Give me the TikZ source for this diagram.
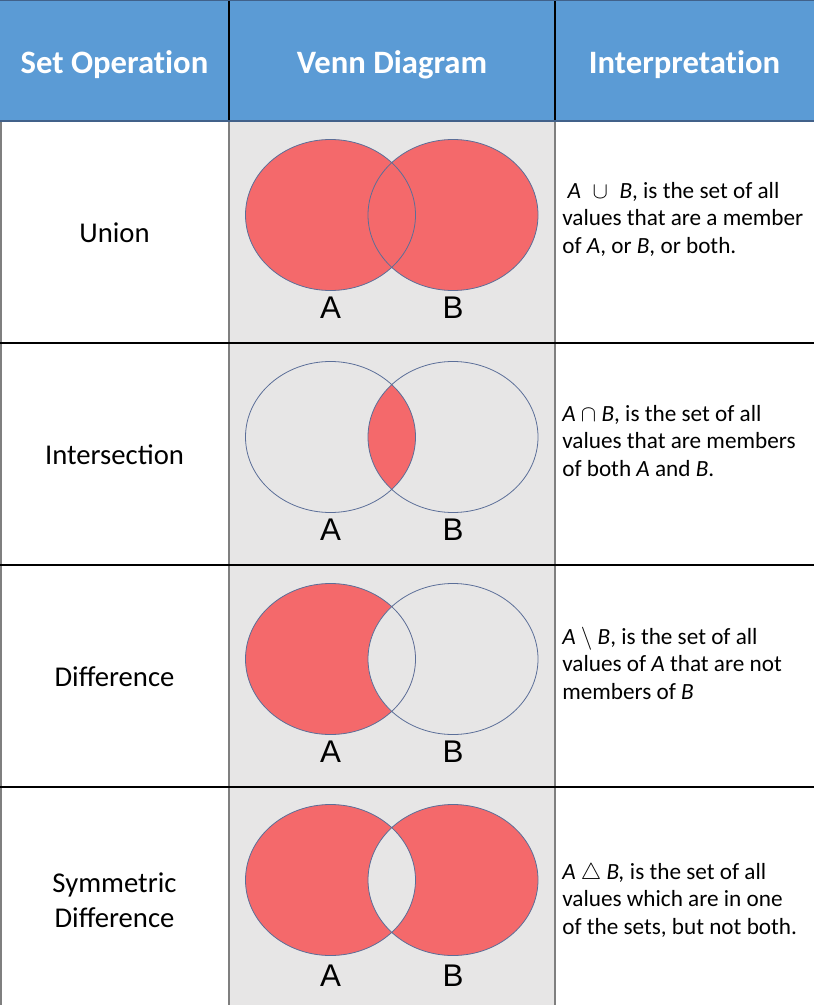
\documentclass[tikz,border=0pt]{standalone}
\usepackage{fontspec}
\setmainfont{Carlito}
\newfontfamily\labfont{Liberation Sans}
\newfontfamily\headfont[RawFeature={-liga;-calt;-clig;-dlig}]{Carlito}
\definecolor{headblue}{HTML}{5B9BD5}
\definecolor{headline}{HTML}{41618A}
\definecolor{cellgray}{HTML}{E7E6E6}
\definecolor{setred}{HTML}{F4696B}
\definecolor{vennline}{HTML}{5B6E98}
\definecolor{gridgray}{HTML}{7F7F7F}
\tikzset{
  headtext/.style={text=white, font=\headfont\fontsize{24.5}{28}\selectfont\bfseries},
  optext/.style={font=\fontsize{21.5}{26}\selectfont, align=center},
  interp/.style={anchor=west, align=left, inner sep=0pt,
    font=\fontsize{17.4}{20.6}\selectfont},
  setlab/.style={font=\labfont\fontsize{23.5}{26}\selectfont},
  venn/.style={draw=vennline, line width=0.6pt}
}
\begin{document}
\begin{tikzpicture}[x=0.75pt,y=-0.75pt]
  \useasboundingbox (0,0) rectangle (814,1005);
  % cells
  \fill [headblue] (0,0) rectangle (814,121);
  \fill [cellgray] (229,121) rectangle (555,1005);
  % header
  \node [headtext] (hop) at (114.5,65) {Set Operation};
  \node [headtext] (hvenn) at (392,65) {Venn Diagram};
  \node [headtext] (hint) at (684.5,65) {Interpretation};
  % fills
  \fill [setred] (330.5,215) ellipse (85 and 75.5);
  \fill [setred] (453,215) ellipse (85 and 75.5);
  \begin{scope}
    \clip (330.5,437) ellipse (85 and 75.5);
    \fill [setred] (453,437) ellipse (85 and 75.5);
  \end{scope}
  \fill [setred] (330.5,659) ellipse (85 and 75.5);
  \begin{scope}
    \clip (330.5,659) ellipse (85 and 75.5);
    \fill [cellgray] (453,659) ellipse (85 and 75.5);
  \end{scope}
  \fill [setred, even odd rule] (330.5,880) ellipse (85 and 75.5)
    (453,880) ellipse (85 and 75.5);
  % outlines and labels
  \foreach \r/\cy/\ly in {1/215/308, 2/437/530, 3/659/752, 4/880/976} {
    \draw [venn] (330.5,\cy) ellipse (85 and 75.5);
    \draw [venn] (453,\cy) ellipse (85 and 75.5);
    \node [setlab] (A\r) at (330.5,\ly) {A};
    \node [setlab] (B\r) at (453,\ly) {B};
  }
  % operations
  \node [optext] (union) at (114.5,233) {Union};
  \node [optext] (inter) at (114.5,455) {Intersection};
  \node [optext] (diff) at (114.5,677) {Difference};
  \node [optext] (sym) at (114.5,900) {Symmetric\\Difference};
  % interpretations
  \node [interp] (iunion) at (562,219)
    {\ \textit{A}\enspace$\cup$\enspace\textit{B}, is the set of all\\values that are a member\\of \textit{A}, or \textit{B}, or both.};
  \node [interp] (iinter) at (562,441)
    {\textit{A} $\cap$ \textit{B}, is the set of all\\values that are members\\of both \textit{A} and \textit{B}.};
  \node [interp] (idiff) at (562,663)
    {\textit{A} $\setminus$ \textit{B}, is the set of all\\values of \textit{A} that are not\\members of \textit{B}};
  \node [interp] (isym) at (562,900)
    {\textit{A} $\triangle$ \textit{B,} is the set of all\\values which are in one\\of the sets, but not both.};
  % grid
  \draw [gridgray, line width=1.5pt] (1,121) -- (1,1005);
  \draw [gridgray, line width=1.5pt] (229,121) -- (229,1005);
  \draw [gridgray, line width=1.5pt] (555,121) -- (555,1005);
  \draw [black, line width=0.9pt] (229,0) -- (229,121);
  \draw [black, line width=0.9pt] (555,0) -- (555,121);
  \draw [headline, line width=1pt] (0,0.5) -- (814,0.5);
  \draw [headline, line width=2.2pt] (0,121) -- (814,121);
  \foreach \y in {343,565,787}
    \draw [black, line width=1pt] (0,\y) -- (814,\y);
\end{tikzpicture}
\end{document}
